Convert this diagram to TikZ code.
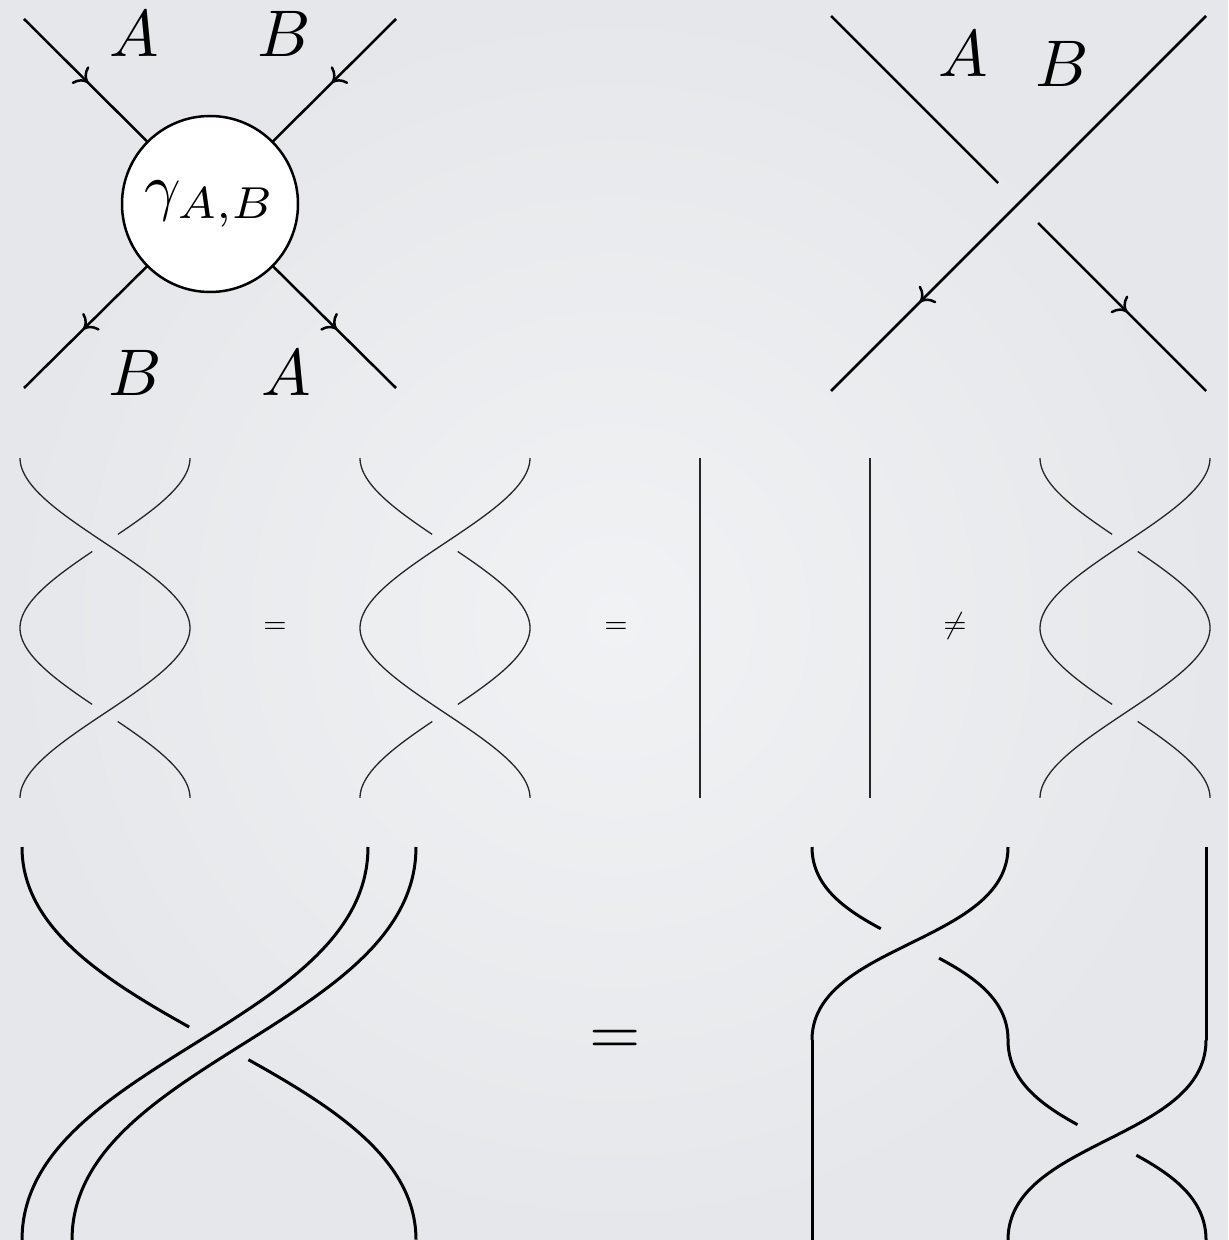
\documentclass[tikz,border=0pt]{standalone}
\usetikzlibrary{arrows.meta,decorations.markings}
\definecolor{bgin}{RGB}{241,242,244}
\definecolor{bgout}{RGB}{229,231,234}
\newcommand\brseg[8][]{\draw[#1] plot[variable=\t,domain=#7:#8,samples=50,smooth] ({#2+(#4-#2)*ss(\t)},{#3+(#5-#3)*by(\t,#6)});}
\begin{document}
\begin{tikzpicture}[x=0.5pt,y=-0.5pt,
  declare function={ss(\s)=3*\s*\s-2*\s*\s*\s; by(\s,\k)=3*(1-\s)*(1-\s)*\s*\k+3*(1-\s)*\s*\s*(1-\k)+\s*\s*\s;},
  wtop/.style={line width=1.25pt},
  wmid/.style={line width=0.65pt, draw=black!85},
  wbot/.style={line width=1.5pt},
  lblbig/.style={scale=3.3, inner sep=0pt, anchor=base},
  lblsmall/.style={scale=1.5, inner sep=0pt, anchor=base},
  midarrow/.style={postaction={decorate}, decoration={markings, mark=at position #1 with {\arrow{Computer Modern Rightarrow[length=6pt,width=12pt]}}}},
]
\shade[inner color=bgin, outer color=bgout] (0,0) rectangle (1228,1240);
\useasboundingbox (0,0) rectangle (1228,1240);

% ---- top left: gamma vertex
\coordinate (tl) at (24,19);
\coordinate (tr) at (396,19);
\coordinate (bl) at (24,388);
\coordinate (br) at (396,388);
\node[circle, draw, fill=white, wtop, minimum size=27.5pt, inner sep=0pt, outer sep=0pt, scale=3.2] (g) at (210,204) {$\gamma_{A,B}$};
\draw[wtop, midarrow=0.52] (tl) -- (g);
\draw[wtop, midarrow=0.52] (tr) -- (g);
\draw[wtop, midarrow=0.52] (g) -- (bl);
\draw[wtop, midarrow=0.52] (g) -- (br);
\node[lblbig] (la1) at (134,57) {$A$};
\node[lblbig] (lb1) at (284,57) {$B$};
\node[lblbig] (lb2) at (135,395) {$B$};
\node[lblbig] (la2) at (286,395) {$A$};

% ---- top right: crossing
\coordinate (xa) at (831,16);
\coordinate (xb) at (998,183);
\coordinate (xc) at (1206,16);
\coordinate (xd) at (831,391);
\coordinate (xe) at (1038,223);
\coordinate (xf) at (1206,391);
\draw[wtop] (xa) -- (xb);
\draw[wtop, midarrow=0.763] (xc) -- (xd);
\draw[wtop, midarrow=0.53] (xe) -- (xf);
\node[lblbig] (la3) at (963,77) {$A$};
\node[lblbig] (lb3) at (1062,87) {$B$};

% ---- middle row
% braid 1
\brseg[wmid]{20}{458}{190}{628}{0.3333}{0}{1}
\brseg[wmid]{190}{628}{20}{798}{0.3333}{0}{1}
\brseg[wmid]{190}{458}{20}{628}{0.3333}{0}{0.45}
\brseg[wmid]{190}{458}{20}{628}{0.3333}{0.55}{1}
\brseg[wmid]{20}{628}{190}{798}{0.3333}{0}{0.45}
\brseg[wmid]{20}{628}{190}{798}{0.3333}{0.55}{1}
\node[lblsmall] (eq1) at (275,633.5) {$=$};
% braid 2
\brseg[wmid]{530}{458}{360}{628}{0.3333}{0}{1}
\brseg[wmid]{360}{628}{530}{798}{0.3333}{0}{1}
\brseg[wmid]{360}{458}{530}{628}{0.3333}{0}{0.45}
\brseg[wmid]{360}{458}{530}{628}{0.3333}{0.55}{1}
\brseg[wmid]{530}{628}{360}{798}{0.3333}{0}{0.45}
\brseg[wmid]{530}{628}{360}{798}{0.3333}{0.55}{1}
\node[lblsmall] (eq2) at (616,633.5) {$=$};
% identity
\coordinate (v1t) at (700,458);
\coordinate (v1b) at (700,798);
\coordinate (v2t) at (870,458);
\coordinate (v2b) at (870,798);
\draw[wmid] (v1t) -- (v1b);
\draw[wmid] (v2t) -- (v2b);
\node[lblsmall] (neq) at (955,633.5) {$\neq$};
% braid 4
\brseg[wmid]{1210}{458}{1040}{628}{0.3333}{0}{1}
\brseg[wmid]{1210}{628}{1040}{798}{0.3333}{0}{1}
\brseg[wmid]{1040}{458}{1210}{628}{0.3333}{0}{0.45}
\brseg[wmid]{1040}{458}{1210}{628}{0.3333}{0.55}{1}
\brseg[wmid]{1040}{628}{1210}{798}{0.3333}{0}{0.45}
\brseg[wmid]{1040}{628}{1210}{798}{0.3333}{0.55}{1}

% ---- bottom row left
\brseg[wbot]{368}{847}{22}{1240}{0.45}{0}{1}
\brseg[wbot]{416}{847}{72}{1240}{0.45}{0}{1}
\brseg[wbot]{22}{847}{416}{1240}{0.45}{0}{0.45}
\brseg[wbot]{22}{847}{416}{1240}{0.45}{0.55}{1}
\node[lblbig] (eq3) at (615,1054) {$=$};

% ---- bottom row right
\brseg[wbot]{1008}{847}{812}{1040}{0.5}{0}{1}
\coordinate (q1) at (812,1040);
\coordinate (q2) at (812,1240);
\draw[wbot] (q1) -- (q2);
\coordinate (r1) at (1206,847);
\coordinate (r2) at (1206,1040);
\draw[wbot] (r1) -- (r2);
\brseg[wbot]{1206}{1040}{1008}{1240}{0.5}{0}{1}
\brseg[wbot]{812}{847}{1008}{1040}{0.5}{0}{0.4}
\brseg[wbot]{812}{847}{1008}{1040}{0.5}{0.6}{1}
\brseg[wbot]{1008}{1040}{1206}{1240}{0.5}{0}{0.4}
\brseg[wbot]{1008}{1040}{1206}{1240}{0.5}{0.6}{1}
\end{tikzpicture}
\end{document}
